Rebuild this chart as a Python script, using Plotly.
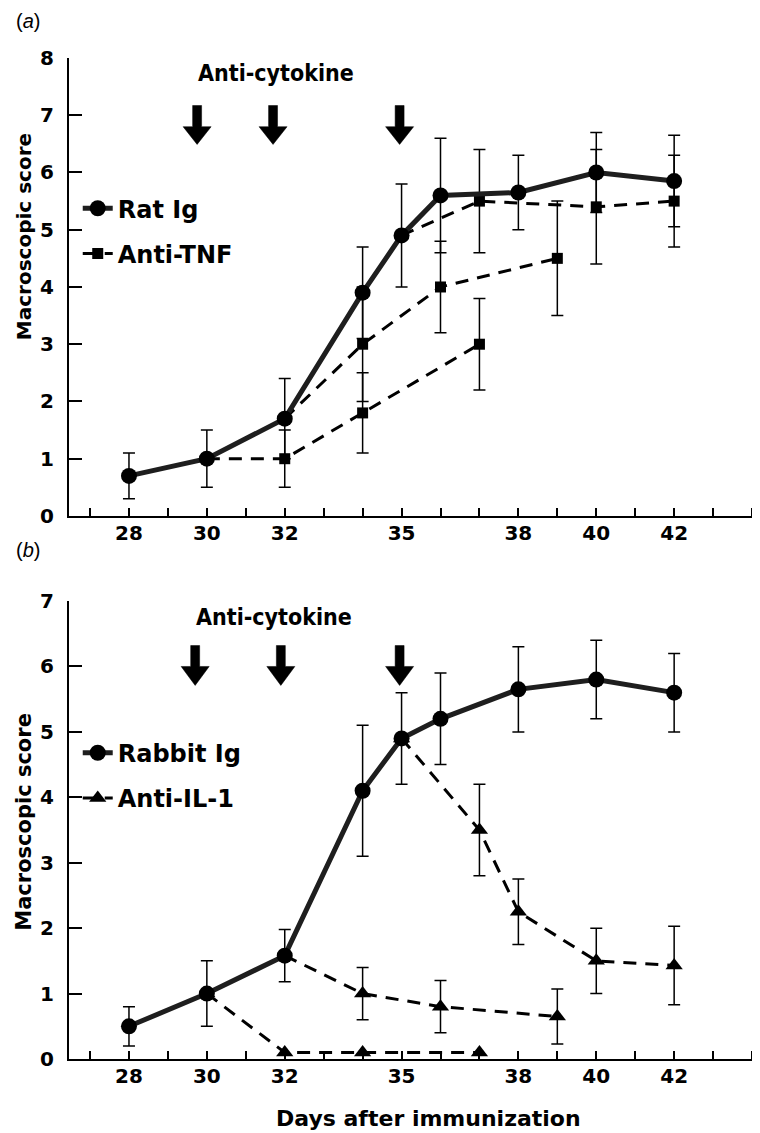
import plotly.graph_objects as go

# ---------------- data: panel (a) ----------------
rat_days = [28, 30, 32, 34, 35, 36, 38, 40, 42]
rat_score = [0.7, 1.0, 1.7, 3.9, 4.9, 5.6, 5.65, 6.0, 5.85]
rat_sem = [0.4, 0.5, 0.7, 0.8, 0.9, 1.0, 0.65, 0.7, 0.8]

tnf_d30_days = [30, 32, 34, 37]
tnf_d30_score = [1.0, 1.0, 1.8, 3.0]
tnf_d30_sem = [0, 0.5, 0.7, 0.8]

tnf_d32_days = [32, 34, 36, 39]
tnf_d32_score = [1.7, 3.0, 4.0, 4.5]
tnf_d32_sem = [0, 1.0, 0.8, 1.0]

tnf_d35_days = [35, 37, 40, 42]
tnf_d35_score = [4.9, 5.5, 5.4, 5.5]
tnf_d35_sem = [0, 0.9, 1.0, 0.8]

# ---------------- data: panel (b) ----------------
rab_days = [28, 30, 32, 34, 35, 36, 38, 40, 42]
rab_score = [0.5, 1.0, 1.58, 4.1, 4.9, 5.2, 5.65, 5.8, 5.6]
rab_sem = [0.3, 0.5, 0.4, 1.0, 0.7, 0.7, 0.65, 0.6, 0.6]

il1_d30_days = [30, 32, 34, 37]
il1_d30_score = [1.0, 0.1, 0.1, 0.1]

il1_d32_days = [32, 34, 36, 39]
il1_d32_score = [1.58, 1.0, 0.8, 0.65]
il1_d32_sem = [0, 0.4, 0.4, 0.42]

il1_d35_days = [35, 37, 38, 40, 42]
il1_d35_score = [4.9, 3.5, 2.25, 1.5, 1.43]
il1_d35_sem = [0, 0.7, 0.5, 0.5, 0.6]

dose_days_a = [29.75, 31.7, 34.95]
dose_days_b = [29.7, 31.9, 34.95]

tick_days = list(range(27, 45))
labelled_days = [28, 30, 32, 35, 38, 40, 42]
tick_text = [str(d) if d in labelled_days else "" for d in tick_days]

# ---------------- styles ----------------
BLACK = "black"
IG_LINE = dict(color="#1e1e1e", width=5)
DASH_LINE = dict(color=BLACK, width=3, dash="13px,9px")
ERR = dict(type="data", color=BLACK, thickness=1.5, width=6)

fig = go.Figure()


def add(x, y, sem, xa, ya, name, symbol, size, line, show, legend, rank):
    kw = dict(
        x=x, y=y, xaxis=xa, yaxis=ya, mode="lines+markers", name=name,
        line=line, marker=dict(symbol=symbol, size=size, color=BLACK),
        showlegend=show, legend=legend, legendgroup=legend + name,
        legendrank=rank, cliponaxis=False, hoverinfo="skip",
    )
    if sem is not None:
        kw["error_y"] = dict(array=sem, **ERR)
    fig.add_trace(go.Scatter(**kw))


# panel (a): treatments then control on top
add(tnf_d30_days, tnf_d30_score, tnf_d30_sem, "x", "y", "Anti-TNF", "square", 11, DASH_LINE, True, "legend", 2)
add(tnf_d32_days, tnf_d32_score, tnf_d32_sem, "x", "y", "Anti-TNF", "square", 11, DASH_LINE, False, "legend", 2)
add(tnf_d35_days, tnf_d35_score, tnf_d35_sem, "x", "y", "Anti-TNF", "square", 11, DASH_LINE, False, "legend", 2)
add(rat_days, rat_score, rat_sem, "x", "y", "Rat Ig", "circle", 16, IG_LINE, True, "legend", 1)

# panel (b)
add(il1_d30_days, il1_d30_score, None, "x2", "y2", "Anti-IL-1", "triangle-up", 15, DASH_LINE, True, "legend2", 2)
add(il1_d32_days, il1_d32_score, il1_d32_sem, "x2", "y2", "Anti-IL-1", "triangle-up", 15, DASH_LINE, False, "legend2", 2)
add(il1_d35_days, il1_d35_score, il1_d35_sem, "x2", "y2", "Anti-IL-1", "triangle-up", 15, DASH_LINE, False, "legend2", 2)
add(rab_days, rab_score, rab_sem, "x2", "y2", "Rabbit Ig", "circle", 16, IG_LINE, True, "legend2", 1)

# ---------------- arrows (block arrows via shapes) ----------------
SW, HW = 0.115, 0.36  # half widths in days


def arrow(d, top, neck, tip, xref, yref):
    p = (f"M{d-SW},{top} L{d+SW},{top} L{d+SW},{neck} L{d+HW},{neck} "
         f"L{d},{tip} L{d-HW},{neck} L{d-SW},{neck} Z")
    return dict(type="path", path=p, xref=xref, yref=yref,
                fillcolor=BLACK, line=dict(color=BLACK, width=0.5))


shapes = [arrow(d, 7.17, 6.8, 6.49, "x", "y") for d in dose_days_a]
shapes += [arrow(d, 6.32, 6.0, 5.71, "x2", "y2") for d in dose_days_b]

narrow = dict(family="Liberation Sans Narrow, DejaVu Sans Condensed, sans-serif",
              size=23, weight="bold", color=BLACK)
title_font = dict(family="DejaVu Sans", size=20, weight="bold", color=BLACK)

annotations = [
    dict(text="Anti-cytokine", x=31.77, y=7.74, xref="x", yref="y",
         showarrow=False, font=narrow),
    dict(text="Anti-cytokine", x=31.72, y=6.76, xref="x2", yref="y2",
         showarrow=False, font=narrow),
    dict(text="(<i>a</i>)", x=-0.079, y=1.037, xref="paper", yref="paper",
         xanchor="left", yanchor="middle", showarrow=False,
         font=dict(family="Liberation Sans", size=20, color=BLACK)),
    dict(text="(<i>b</i>)", x=-0.079, y=0.5085, xref="paper", yref="paper",
         xanchor="left", yanchor="middle", showarrow=False,
         font=dict(family="Liberation Sans", size=20, color=BLACK)),
    dict(text="Macroscopic score", x=-0.0644, y=0.822, xref="paper", yref="paper",
         textangle=-90, showarrow=False, xanchor="center", yanchor="middle",
         font=title_font),
    dict(text="Macroscopic score", x=-0.0644, y=0.237, xref="paper", yref="paper",
         textangle=-90, showarrow=False, xanchor="center", yanchor="middle",
         font=dict(family="DejaVu Sans", size=21, weight="bold", color=BLACK)),
    dict(text="Days after immunization", x=0.5136, y=-0.059, xref="paper", yref="paper",
         showarrow=False, xanchor="center", yanchor="middle",
         font=dict(family="DejaVu Sans", size=22, weight="bold", color=BLACK)),
]

X_RANGE = [26.46, 44.41]
tickfont = dict(family="DejaVu Sans", size=20, weight="bold", color=BLACK)
xcommon = dict(range=X_RANGE, tickvals=tick_days, ticktext=tick_text,
               ticks="inside", ticklen=8, tickwidth=1.5, tickcolor=BLACK,
               showline=True, linewidth=2, linecolor=BLACK, showgrid=False,
               zeroline=False, tickfont=tickfont, ticklabelstandoff=-2,
               automargin=False)
ycommon = dict(dtick=1, tick0=0, ticks="inside", ticklen=13, tickwidth=1.5,
               tickcolor=BLACK, showline=True, linewidth=2, linecolor=BLACK,
               showgrid=False, zeroline=False, tickfont=tickfont,
               ticklabelstandoff=9, automargin=False)

legend_common = dict(xanchor="left", yanchor="top", bgcolor="rgba(0,0,0,0)",
                     borderwidth=0, traceorder="grouped", tracegroupgap=11,
                     font=dict(family="DejaVu Sans", size=24, weight="bold", color=BLACK))

fig.update_layout(
    width=760, height=1133,
    margin=dict(l=61, r=0, t=50, b=82, autoexpand=False),
    plot_bgcolor="white", paper_bgcolor="white",
    font=dict(family="DejaVu Sans", color=BLACK),
    xaxis=dict(domain=[0, 1], anchor="y", **xcommon),
    yaxis=dict(domain=[0.5425, 1], anchor="x", range=[0, 8], **ycommon),
    xaxis2=dict(domain=[0, 1], anchor="y2", **xcommon),
    yaxis2=dict(domain=[0, 0.4575], anchor="x2", range=[0, 7], **ycommon),
    legend=dict(x=0.0125, y=0.872, **legend_common),
    legend2=dict(x=0.0125, y=0.328, **legend_common),
    shapes=shapes, annotations=annotations,
)

fig.write_html("out.html")
